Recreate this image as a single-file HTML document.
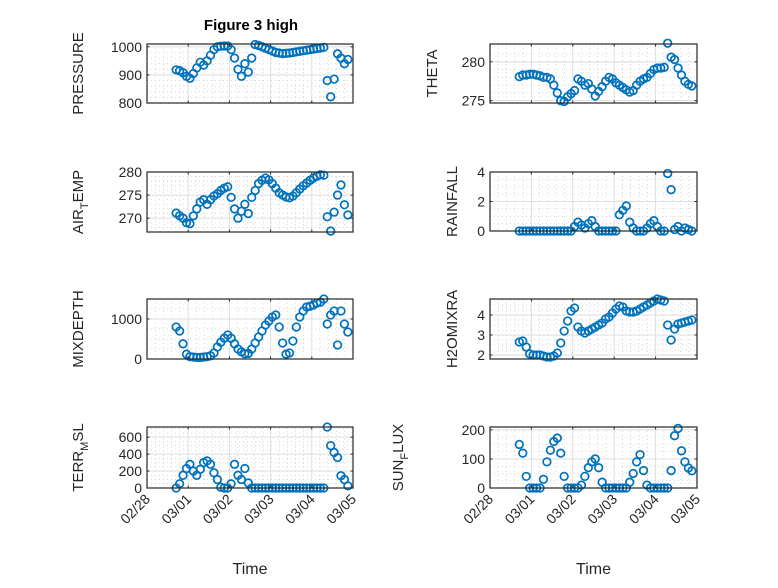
<!DOCTYPE html>
<html><head><meta charset="utf-8"><style>
body{margin:0;background:#fff}
svg text{font-family:"Liberation Sans","DejaVu Sans",sans-serif;fill:#262626}
</style></head><body>
<svg id="fig" width="778" height="583" viewBox="0 0 778 583" xmlns="http://www.w3.org/2000/svg">
<rect width="778" height="583" fill="#fff"/>
<text x="251" y="30" text-anchor="middle" font-size="15" font-weight="bold" style="fill:#000">Figure 3 high</text>
</svg>
<script>
const hours=[17,19,21,23,25,27,29,31,33,35,37,39,41,43,45,47,49,51,53,55,57,59,61,63,65,67,69,71,73,75,77,79,81,83,85,87,89,91,93,95,97,99,101,103,105,107,109,111,113,115,117];
const xTickLabels=["02/28","03/01","03/02","03/03","03/04","03/05"];
const pressure=[918,915,908,895,888,905,925,945,935,950,970,990,1000,1002,1003,1003,990,960,920,895,940,910,960,1008,1005,1000,995,990,985,980,978,976,977,978,980,982,984,986,988,990,992,994,996,998,880,822,885,975,960,940,955];
const theta=[278.1,278.3,278.3,278.4,278.4,278.3,278.2,278.0,278.0,277.8,277.0,276.0,275.0,274.9,275.5,275.9,276.3,277.8,277.5,277.0,277.2,276.5,275.6,276.2,276.8,277.5,278.0,277.8,277.3,277.0,276.7,276.4,276.1,276.3,277.0,277.5,277.8,278.0,278.5,279.0,279.2,279.2,279.3,282.4,280.6,280.3,279.2,278.3,277.5,277.1,276.9];
const airTemp=[271.1,270.5,270,269,268.8,270.5,272,273.5,274,273,274,274.8,275.3,276,276.5,276.8,274.5,272,270,271.5,273,271,274.5,276,277.5,278.2,278.7,278.3,277.5,276.5,275.5,275,274.6,274.4,274.8,275.5,276.3,277,277.6,278.2,278.7,279.1,279.4,279.3,270.3,267.2,271.3,275,277.2,272.9,270.7];
const rainfall=[0,0,0,0,0,0,0,0,0,0,0,0,0,0,0,0,0.3,0.6,0.4,0.2,0.5,0.7,0.3,0,0,0,0,0,0,1.1,1.4,1.7,0.6,0.2,0,0,0,0.2,0.5,0.7,0.3,0,0,3.9,2.8,0.1,0.3,0,0.2,0.1,0];
const mixDepth=[800,700,380,120,60,50,40,40,50,60,80,150,300,420,520,600,520,380,250,180,130,140,250,400,550,700,850,950,1050,1100,800,400,120,150,450,800,1050,1200,1300,1320,1350,1400,1420,1500,875,1100,1200,350,1200,875,675];
const h2oMix=[2.65,2.7,2.4,2.05,2.0,2.0,2.0,1.95,1.9,1.9,1.95,2.1,2.6,3.2,3.7,4.2,4.35,3.4,3.2,3.1,3.2,3.3,3.4,3.5,3.6,3.8,3.9,4.1,4.3,4.45,4.4,4.2,4.15,4.15,4.2,4.3,4.4,4.5,4.6,4.7,4.8,4.75,4.7,3.5,2.75,3.3,3.55,3.6,3.65,3.7,3.75];
const terrMsl=[0,50,150,230,280,200,150,220,300,320,280,180,100,10,0,0,50,280,150,100,230,60,0,0,0,0,0,0,0,0,0,0,0,0,0,0,0,0,0,0,0,0,0,0,720,500,420,360,145,100,25];
const sunFlux=[150,120,40,0,0,0,0,30,90,130,160,172,120,40,0,0,0,0,10,40,70,90,100,70,20,0,0,0,0,0,0,0,20,50,90,115,60,10,0,0,0,0,0,0,60,180,205,128,90,69,59];

const NS="http://www.w3.org/2000/svg";
const svg=document.getElementById('fig');
function mk(tag,attrs,parent){const e=document.createElementNS(NS,tag);for(const k in attrs)e.setAttribute(k,attrs[k]);(parent||svg).appendChild(e);return e;}

const panels=[
 {id:'pressure',vals:pressure,x0:147,x1:353,y0:44,y1:103,ymin:800,ymax:1010,ticks:[800,900,1000],minor:20,label:['PRESSURE'],lx:78},
 {id:'theta',vals:theta,x0:490,x1:697,y0:44,y1:103,ymin:274.7,ymax:282.3,ticks:[275,280],minor:1,label:['THETA'],lx:432},
 {id:'air-temp',vals:airTemp,x0:147,x1:353,y0:172,y1:232,ymin:267,ymax:280,ticks:[270,275,280],minor:1,label:['AIR','T','EMP'],lx:78},
 {id:'rainfall',vals:rainfall,x0:490,x1:697,y0:172,y1:231,ymin:0,ymax:4,ticks:[0,2,4],minor:0.5,label:['RAINFALL'],lx:452},
 {id:'mixdepth',vals:mixDepth,x0:147,x1:353,y0:299,y1:359,ymin:0,ymax:1500,ticks:[0,1000],minor:250,label:['MIXDEPTH'],lx:78},
 {id:'h2omixra',vals:h2oMix,x0:490,x1:697,y0:299,y1:359,ymin:1.8,ymax:4.8,ticks:[2,3,4],minor:0.25,label:['H2OMIXRA'],lx:452},
 {id:'terr-msl',vals:terrMsl,x0:147,x1:353,y0:427,y1:488,ymin:0,ymax:720,ticks:[0,200,400,600],minor:50,label:['TERR','M','SL'],lx:78,bottom:true},
 {id:'sun-flux',vals:sunFlux,x0:490,x1:697,y0:427,y1:488,ymin:0,ymax:210,ticks:[0,100,200],minor:25,label:['SUN','F','LUX'],lx:398,bottom:true}
];

panels.forEach(p=>{
 const g=mk('g',{});
 
 
 const xs=d=>p.x0+(d/5)*(p.x1-p.x0);
 const ys=v=>p.y1-(v-p.ymin)/(p.ymax-p.ymin)*(p.y1-p.y0);
 mk('rect',{x:p.x0,y:p.y0,width:p.x1-p.x0,height:p.y1-p.y0,fill:'#fff'},g);
 for(let d=0.2;d<5;d+=0.2){if(Math.abs(d-Math.round(d))<1e-6)continue;mk('line',{x1:xs(d),x2:xs(d),y1:p.y0,y2:p.y1,stroke:'#c8c8c8','stroke-width':0.7,'stroke-dasharray':'1 3'},g);}
 for(let v=Math.ceil(p.ymin/p.minor)*p.minor;v<p.ymax;v+=p.minor){mk('line',{x1:p.x0,x2:p.x1,y1:ys(v),y2:ys(v),stroke:'#c8c8c8','stroke-width':0.7,'stroke-dasharray':'1 3'},g);}
 for(let d=1;d<5;d++)mk('line',{x1:xs(d),x2:xs(d),y1:p.y0,y2:p.y1,stroke:'#dedede','stroke-width':1},g);
 p.ticks.forEach(v=>{mk('line',{x1:p.x0,x2:p.x1,y1:ys(v),y2:ys(v),stroke:'#dedede','stroke-width':1},g);});
 hours.forEach((h,i)=>{
  const c=mk('circle',{cx:xs(h/24),cy:ys(p.vals[i]),r:3.8,fill:'none',stroke:'#0072BD','stroke-width':1.7},g);
  
  
 });
 mk('rect',{x:p.x0,y:p.y0,width:p.x1-p.x0,height:p.y1-p.y0,fill:'none',stroke:'#262626','stroke-width':1.2},g);
 for(let d=0;d<=5;d++){mk('line',{x1:xs(d),x2:xs(d),y1:p.y1,y2:p.y1-2.5,stroke:'#262626'},g);mk('line',{x1:xs(d),x2:xs(d),y1:p.y0,y2:p.y0+2.5,stroke:'#262626'},g);}
 p.ticks.forEach(v=>{
  mk('line',{x1:p.x0,x2:p.x0+2.5,y1:ys(v),y2:ys(v),stroke:'#262626'},g);
  mk('line',{x1:p.x1,x2:p.x1-2.5,y1:ys(v),y2:ys(v),stroke:'#262626'},g);
  const t=mk('text',{x:p.x0-5,y:ys(v)+5,'text-anchor':'end','font-size':14},g);
  
  
  t.textContent=String(v);
 });
 const cy=(p.y0+p.y1)/2;
 const lab=mk('text',{x:0,y:0,'text-anchor':'middle','font-size':15,transform:`translate(${p.lx+5},${cy}) rotate(-90)`},g);
 
 
 if(p.label.length===1){lab.textContent=p.label[0];}
 else{
  const a=mk('tspan',{},lab);a.textContent=p.label[0];
  const b=mk('tspan',{dy:5,'font-size':11},lab);b.textContent=p.label[1];
  const c=mk('tspan',{dy:-5},lab);c.textContent=p.label[2];
 }
 if(p.bottom){
  xTickLabels.forEach((s,d)=>{
   const t=mk('text',{x:0,y:0,'text-anchor':'end','font-size':14,transform:`translate(${xs(d)+4},${p.y1+12}) rotate(-45)`},g);
   
   
   t.textContent=s;
  });
  const xt=mk('text',{x:(p.x0+p.x1)/2,y:574,'text-anchor':'middle','font-size':16},g);
  
  
  xt.textContent='Time';
 }
});
</script>
</body></html>
